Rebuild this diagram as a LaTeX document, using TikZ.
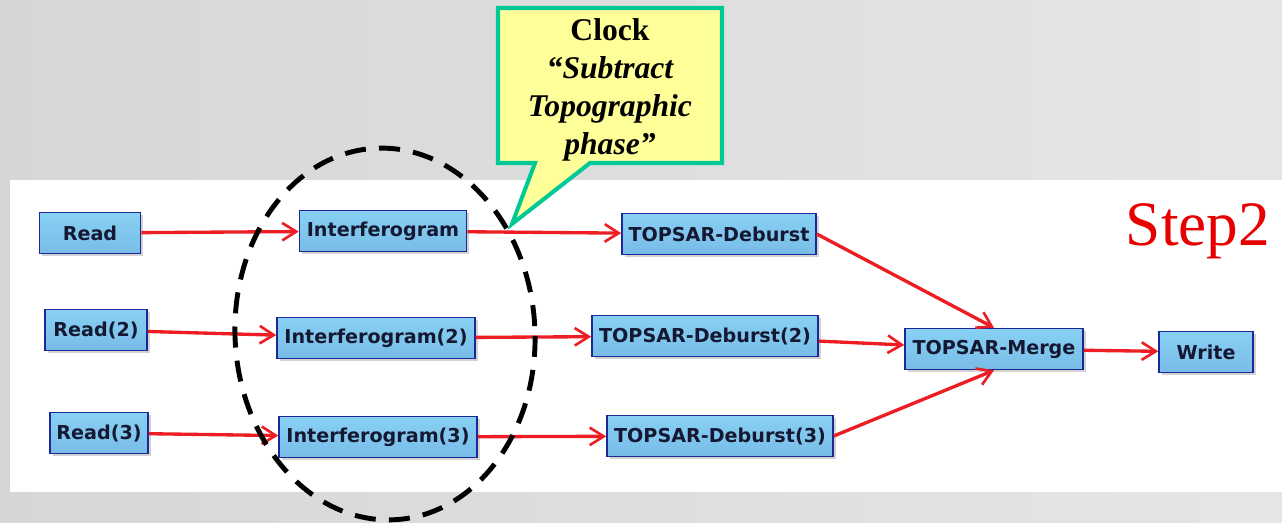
\documentclass[tikz,border=0pt]{standalone}
\usepackage{fontspec}
\setmainfont{Liberation Serif}
\newfontfamily\boxfont{DejaVu Sans}
\usepackage{tikz}
\usetikzlibrary{arrows.meta, shadows}
\definecolor{boxfill}{RGB}{136, 208, 244}
\definecolor{boxfilldark}{RGB}{120, 188, 230}
\definecolor{boxline}{RGB}{28, 40, 150}
\definecolor{boxtext}{RGB}{20, 24, 50}
\definecolor{flow}{RGB}{236, 30, 36}
\definecolor{notefill}{RGB}{255, 255, 153}
\definecolor{noteline}{RGB}{0, 200, 150}
\definecolor{steptext}{RGB}{230, 0, 0}
\newcommand*{\h}{0.82cm}

\begin{document}
\begin{tikzpicture}[
   x=0.02cm, y=-0.02cm,
   opbox/.style={rectangle, draw=boxline, line width=0.9, top color=boxfill,
                 bottom color=boxfilldark, text=boxtext, inner sep=2,
                 minimum height=\h, font=\boxfont\bfseries\fontsize{10.9}{12}\selectfont,
                 drop shadow={opacity=0.35, shadow xshift=1.5pt, shadow yshift=-1.5pt}},
   flowarrow/.style={-{Straight Barb[length=8pt, width=10pt, line width=1.5pt]},
                     color=flow, line width=1.9}
  ]

  % Background and panel
  \useasboundingbox (0, 0) rectangle (1282, 523);
  \shade[left color=black!16, right color=black!10] (0, 0) rectangle (1282, 523);
  \fill[white] (10, 180) rectangle (1282, 492);

  % Operators
  \node (A) at (90, 233) [opbox, minimum width=2.02cm] {Read};
  \node (B) at (383, 231) [opbox, minimum width=3.34cm] {Interferogram};
  \node (C) at (719, 234) [opbox, minimum width=3.88cm] {TOPSAR-Deburst};

  \node (D) at (96, 330) [opbox, minimum width=2.04cm] {Read(2)};
  \node (E) at (376, 338) [opbox, minimum width=3.96cm] {Interferogram(2)};
  \node (F) at (705, 336) [opbox, minimum width=4.52cm] {TOPSAR-Deburst(2)};

  \node (G) at (99, 433) [opbox, minimum width=1.96cm] {Read(3)};
  \node (H) at (378, 437) [opbox, minimum width=3.96cm] {Interferogram(3)};
  \node (I) at (720, 436) [opbox, minimum width=4.52cm] {TOPSAR-Deburst(3)};

  \node (J) at (994, 349) [opbox, minimum width=3.56cm] {TOPSAR-Merge};
  \node (K) at (1206, 352) [opbox, minimum width=1.88cm] {Write};

  \foreach \B/\E in {A/B, B/C, D/E, E/F, G/H, H/I, F/J, J/K} {
    \draw[flowarrow] (\B) -- (\E);
  }
  \draw[flowarrow] (C.east) -- (J.north);
  \draw[flowarrow] (I.east) -- (J.south);

  % Dashed ring round the interferograms
  \draw[black, line width=2.8, dash pattern=on 12pt off 7.5pt, rotate around={3:(385, 334)}]
    (385, 334) ellipse [x radius=3cm, y radius=3.72cm];

  % Callout
  \coordinate (P) at (512, 224);
  \draw[noteline, fill=notefill, line width=2.3, line join=miter]
    (498, 8) -- (722, 8) -- (722, 163) -- (590, 163) -- (P) -- (535, 163)
    -- (498, 163) -- cycle;
  \node (N) at (610, 90) [align=center, font=\bfseries\fontsize{18}{21.5}\selectfont]
    {Clock\\ \itshape “Subtract\\ \itshape Topographic\\ \itshape phase”};

  \node (S) at (1198, 231) [text=steptext, font=\fontsize{36}{40}\selectfont] {Step2};

\end{tikzpicture}
\end{document}
